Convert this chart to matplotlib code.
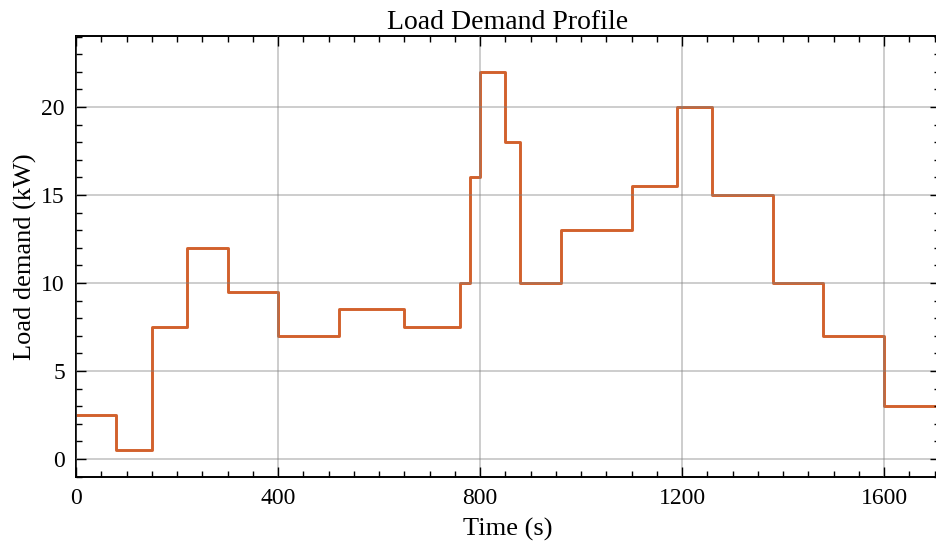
import matplotlib.pyplot as plt
import numpy as np
from matplotlib.ticker import MultipleLocator

# step start times (s) and load (kW), held until next change
time_s = [0, 80, 150, 220, 300, 400, 520, 650, 760, 780, 800, 850, 880,
          960, 1100, 1190, 1260, 1380, 1480, 1600, 1720]
load_kw = [2.5, 0.5, 7.5, 12, 9.5, 7, 8.5, 7.5, 10, 16, 22, 18, 10,
           13, 15.5, 20, 15, 10, 7, 3, 3]

x_ticks = [0, 400, 800, 1200, 1600]
y_ticks = [0, 5, 10, 15, 20]

plt.rcParams['font.family'] = ['Liberation Serif', 'DejaVu Serif']
plt.rcParams['mathtext.fontset'] = 'stix'

fig = plt.figure(figsize=(9.36, 5.48), dpi=100)
ax = fig.add_axes([76 / 936, 71 / 548, (940 - 76) / 936, (477 - 36) / 548])

ax.step(time_s, load_kw, where='post', color='#d2612c', lw=2.1)

ax.set_xlim(0, (940 - 76) / 0.505)
ax.set_ylim(-1.02, 24.03)
ax.set_xticks(x_ticks)
ax.set_yticks(y_ticks)
ax.xaxis.set_minor_locator(MultipleLocator(50))
ax.yaxis.set_minor_locator(MultipleLocator(1))

ax.set_axisbelow(False)
ax.grid(True, which='major', color='gray', alpha=0.5, lw=1.1)

ax.tick_params(which='both', direction='in', top=True, right=True,
               labelsize=17, width=1.0)
ax.tick_params(which='major', length=7, pad=8)
ax.tick_params(which='minor', length=4)
for s in ax.spines.values():
    s.set_linewidth(1.4)

ax.set_title('Load Demand Profile', fontsize=20, pad=5)
ax.set_xlabel('Time (s)', fontsize=19, labelpad=6)
ax.set_ylabel('Load demand (kW)', fontsize=19, labelpad=3)

fig.savefig('out.png', dpi=100)
